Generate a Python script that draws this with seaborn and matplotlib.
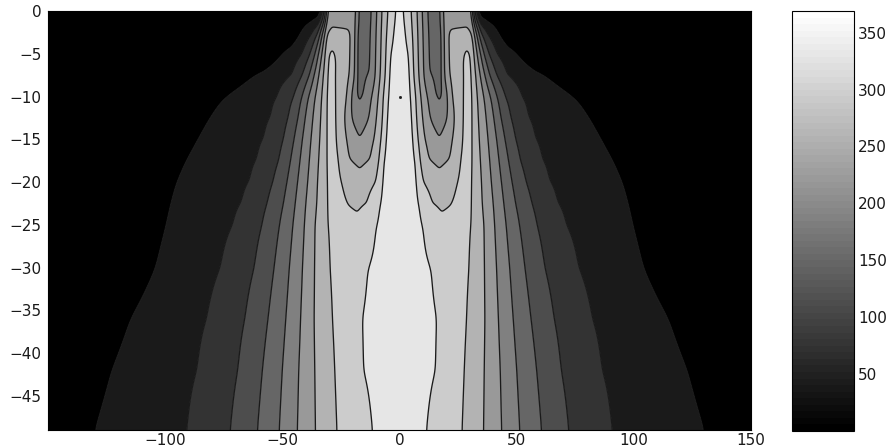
import numpy as np
import matplotlib
matplotlib.use("Agg")
import matplotlib.pyplot as plt
from matplotlib.colors import ListedColormap, Normalize
from matplotlib.cm import ScalarMappable
import seaborn as sns

# ---------------- data ----------------
# contour level scale (index -> data value); colorbar runs 0..369
LEVEL_INDEX = [0, 1, 2, 3, 4, 5, 6, 7, 8, 9, 10]
LEVEL_VALUE = [0.0, 36.9, 73.8, 110.7, 147.6, 184.5, 221.4, 258.3, 295.2, 332.1, 369.0]
BAND_GRAY = [0.0, 0.1, 0.2, 0.3, 0.4, 0.5, 0.6, 0.7, 0.8, 0.9]

CBAR_TICKS = [50, 100, 150, 200, 250, 300, 350]
X_TICKS = [-100, -50, 0, 50, 100, 150]
Y_TICKS = [0, -5, -10, -15, -20, -25, -30, -35, -40, -45]

# half-profiles (x >= 0, field symmetric) at several depths:
# knot positions |x| and the field value there, in level-index units
D00_X = [0, 1.5, 5, 7.5, 9.7, 11.8, 15, 17.5, 18.5, 20.5, 29, 30.5, 31, 31.5, 32, 32.5, 33.5, 34.5, 200]
D00_V = [9.6, 9, 8, 7, 6, 5, 4.6, 5, 6, 6.6, 6.6, 6, 5, 4, 3, 2, 1, 0, 0]

D02_X = [0, 2.5, 5.5, 7.8, 10, 12.2, 15.5, 18, 19, 20.5, 22, 29, 31, 32, 33, 34, 35, 37.5, 42, 46.5, 200]
D02_V = [9.6, 9, 8, 7, 6, 5, 4.6, 5, 6, 7, 7.1, 7.1, 7, 6, 5, 4, 3, 2, 1, 0, 0]

D05_X = [0, 4, 5.8, 8, 10.2, 12.4, 15.8, 18.2, 19, 21, 27.2, 28.7, 30.3, 31.8, 33.2, 34.7, 36.1, 38.2, 41.8, 50, 58.2, 200]
D05_V = [9.55, 9, 8, 7, 6, 5, 4.7, 5, 6, 7, 8, 8.3, 8, 7, 6, 5, 4, 3, 2, 1, 0, 0]

D07_X = [0, 4.5, 6, 8.2, 10.3, 12.5, 16, 18.4, 19, 21.2, 27.4, 29, 30.7, 32.5, 34.5, 36.5, 38.5, 41.5, 46, 62, 78, 200]
D07_V = [9.55, 9, 8, 7, 6, 5, 4.85, 5, 6, 7, 8, 8.35, 8, 7, 6, 5, 4, 3, 2, 1, 0, 0]

D10_X = [0, 5, 6.9, 9.1, 12, 15.3, 17, 18.7, 20.5, 22.5, 27.3, 29, 31, 33.2, 36.1, 39, 41.8, 45.4, 52.5, 75, 97.5, 200]
D10_V = [9.5, 9, 8, 7, 6, 5, 4.9, 5, 6, 7, 8, 8.4, 8, 7, 6, 5, 4, 3, 2, 1, 0, 0]

D12_X = [0, 5.5, 7.2, 9.8, 13, 17, 20.5, 23.5, 27.2, 29.2, 31, 33.6, 37, 40.3, 43.3, 47.5, 55, 81, 107, 200]
D12_V = [9.5, 9, 8, 7, 6, 5.25, 6, 7, 8, 8.45, 8, 7, 6, 5, 4, 3, 2, 1, 0, 0]

D15_X = [0, 6, 7.8, 10.8, 17, 22.6, 27, 29, 31, 34, 37.8, 41.5, 45, 49.5, 58, 86, 114, 200]
D15_V = [9.5, 9, 8, 7, 6.1, 7, 8, 8.45, 8, 7, 6, 5, 4, 3, 2, 1, 0, 0]

D17_X = [0, 7, 8.7, 12.5, 17, 21.5, 26, 29, 31, 34.5, 38.5, 42.5, 46.5, 51.5, 61, 91, 121, 200]
D17_V = [9.5, 9, 8, 7, 6.8, 7, 8, 8.4, 8, 7, 6, 5, 4, 3, 2, 1, 0, 0]

D20_X = [0, 7.5, 10, 17, 24.5, 29, 30.8, 35, 39.2, 43.5, 48, 54, 64, 95, 126, 200]
D20_V = [9.5, 9, 8, 7.35, 8, 8.35, 8, 7, 6, 5, 4, 3, 2, 1, 0, 0]

D22_X = [0, 8.5, 14, 17.5, 22, 29, 30.7, 35.3, 40, 44.5, 49.5, 56.5, 67.5, 97.5, 127.5, 200]
D22_V = [9.5, 9, 8, 7.92, 8, 8.3, 8, 7, 6, 5, 4, 3, 2, 1, 0, 0]

D25_X = [0, 10, 18, 26, 30.7, 36.1, 40.6, 45.5, 51.2, 58.7, 71.2, 99.5, 127.8, 200]
D25_V = [9.5, 9, 8.12, 8.2, 8, 7, 6, 5, 4, 3, 2, 1, 0, 0]

D30_X = [0, 13.5, 29.8, 36.3, 41.4, 47, 53.5, 62, 76.5, 104, 131.5, 200]
D30_V = [9.5, 9, 8, 7, 6, 5, 4, 3, 2, 1, 0, 0]

D36_X = [0, 16, 28.7, 36.5, 42.2, 48.5, 56.1, 66, 82.4, 114.7, 147, 200]
D36_V = [9.5, 9, 8, 7, 6, 5, 4, 3, 2, 1, 0, 0]

D42_X = [0, 15.5, 27.7, 36.2, 43, 50, 58.5, 69, 86.5, 122.7, 158.9, 200]
D42_V = [9.5, 9, 8, 7, 6, 5, 4, 3, 2, 1, 0, 0]

D49_X = [0, 11.6, 26.8, 35.9, 43.6, 51.3, 60.6, 72.2, 90.8, 129.9, 169, 200]
D49_V = [9.5, 9, 8, 7, 6, 5, 4, 3, 2, 1, 0, 0]

ROW_DEPTHS = [-49, -42, -36, -30, -25, -22.5, -20, -17.5, -15, -12.5, -10, -7.5, -5, -2.5, 0]
ROW_KNOTS = [(D49_X, D49_V), (D42_X, D42_V), (D36_X, D36_V), (D30_X, D30_V),
             (D25_X, D25_V), (D22_X, D22_V), (D20_X, D20_V), (D17_X, D17_V),
             (D15_X, D15_V), (D12_X, D12_V), (D10_X, D10_V), (D07_X, D07_V),
             (D05_X, D05_V), (D02_X, D02_V), (D00_X, D00_V)]

MARK_X = [0]
MARK_Y = [-10]

# ---------------- build the gridded field ----------------
xg = np.linspace(-150, 150, 1201)     # 0.25 spacing
yg = np.linspace(-49, 0, 491)         # 0.1 spacing
ax_abs = np.abs(xg)
profiles = np.array([np.interp(ax_abs, kx, kv) for kx, kv in ROW_KNOTS])
nrow = len(ROW_DEPTHS)
weights = np.array([np.interp(yg, ROW_DEPTHS, np.eye(nrow)[j]) for j in range(nrow)]).T
Z_idx = weights @ profiles


def _smooth_axis(a, sigma_cells, axis):
    r = int(3 * sigma_cells) + 1
    k = np.exp(-0.5 * (np.arange(-r, r + 1) / sigma_cells) ** 2)
    k /= k.sum()
    pad = [(0, 0), (0, 0)]
    pad[axis] = (r, r)
    ap = np.pad(a, pad, mode='edge')
    return np.apply_along_axis(lambda v: np.convolve(v, k, mode='valid'), axis, ap)


Z_idx = _smooth_axis(Z_idx, 8.0, 0)   # ~0.8 depth units
Z_idx = _smooth_axis(Z_idx, 2.0, 1)   # ~0.5 x units
Z = np.interp(Z_idx, LEVEL_INDEX, LEVEL_VALUE)
XX, YY = np.meshgrid(xg, yg)

# ---------------- draw ----------------
sns.set_theme(style="white")
plt.rcParams['font.family'] = ['DejaVu Sans']
plt.rcParams['axes.unicode_minus'] = True

W, H = 894, 448
fig = plt.figure(figsize=(W / 100, H / 100), dpi=100)
fig.patch.set_facecolor('white')
ax = fig.add_axes([48 / W, 1 - 430 / H, (751 - 48) / W, (430 - 11) / H])
cax = fig.add_axes([792 / W, 1 - 431 / H, 62 / W, 420 / H])

band_colors = [(g, g, g) for g in BAND_GRAY]
ax.contourf(XX, YY, Z, levels=LEVEL_VALUE, colors=band_colors, antialiased=True)
ax.contour(XX, YY, Z, levels=LEVEL_VALUE[1:10], colors='k', linewidths=0.95)
ax.plot(MARK_X, MARK_Y, linestyle='none', marker='s', markersize=1.0, color='k')

ax.set_xlim(-150, 150)
ax.set_ylim(-49, 0)
ax.set_xticks(X_TICKS)
ax.set_yticks(Y_TICKS)
ax.tick_params(axis='both', direction='in', length=5, width=0.6, labelsize=11,
               colors='k', top=False, right=False)
ax.tick_params(axis='x', pad=2.5)
ax.tick_params(axis='y', pad=4.5)
for s in ax.spines.values():
    s.set_color('black')
    s.set_linewidth(0.8)

cmap = ListedColormap([(g, g, g) for g in np.linspace(0.0, 1.0, 64)])
sm = ScalarMappable(norm=Normalize(vmin=0, vmax=369), cmap=cmap)
cb = fig.colorbar(sm, cax=cax, ticks=CBAR_TICKS)
cb.outline.set_edgecolor('black')
cb.outline.set_linewidth(0.8)
cax.tick_params(direction='in', length=5, width=0.6, labelsize=11, colors='k',
                left=True, right=True, pad=3)

fig.savefig('out.png', dpi=100, facecolor='white')
